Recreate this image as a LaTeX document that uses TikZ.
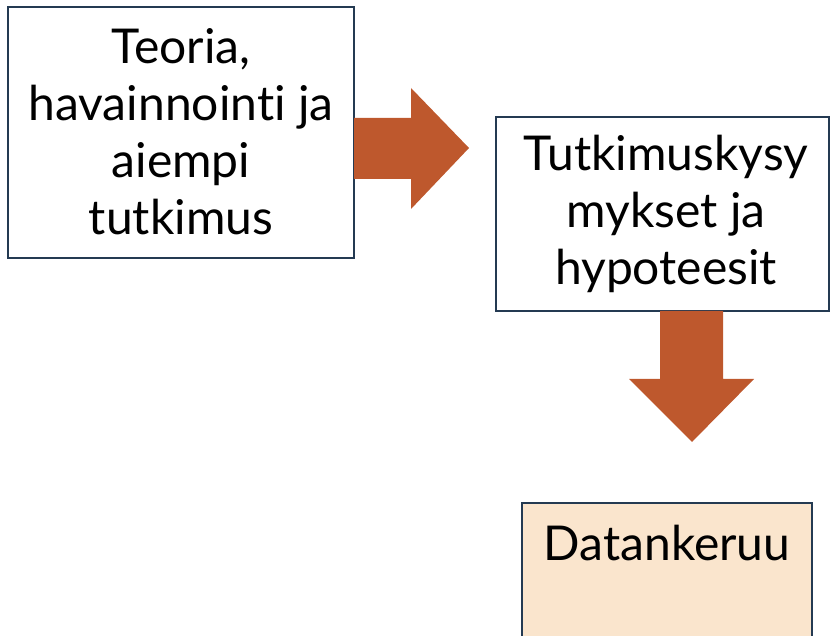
\documentclass[tikz,border=0pt]{standalone}
\usepackage{fontspec}
\setmainfont{Lato}[Ligatures={NoCommon}]
\begin{document}
\begin{tikzpicture}[x=1pt,y=-1pt,
  box/.style={draw=boxline, line width=2pt, fill=white},
  label/.style={font=\fontsize{48}{57}\selectfont, align=center, inner sep=0pt},
  flow/.style={fill=arrowfill, draw=none}]
\definecolor{boxline}{HTML}{243A52}
\definecolor{arrowfill}{HTML}{BE582D}
\definecolor{datafill}{HTML}{FAE5CD}
\useasboundingbox (0,0) rectangle (831,636);
\clip (0,0) rectangle (831,636);

% boxes
\draw[box] (8,7) rectangle (354,258);
\node[label] (teoria) at (181,132) {Teoria,\\havainnointi ja\\aiempi\\tutkimus};

\draw[box] (496,117) rectangle (829,311);
\node[label] (kysymys) at (666,214) {Tutkimuskysy\\mykset ja\\hypoteesit};

\draw[box, fill=datafill] (522,503) rectangle (812,650);
\node[label, anchor=base] (data) at (667,560) {Datankeruu};

% block arrows between the stages
\fill[flow] (354,118) -- (411,118) -- (411,88) -- (469,148) -- (411,209)
  -- (411,179) -- (354,179) -- cycle;
\fill[flow] (660,311) -- (723,311) -- (723,379) -- (754,379) -- (692,442)
  -- (629,379) -- (660,379) -- cycle;
\end{tikzpicture}
\end{document}
